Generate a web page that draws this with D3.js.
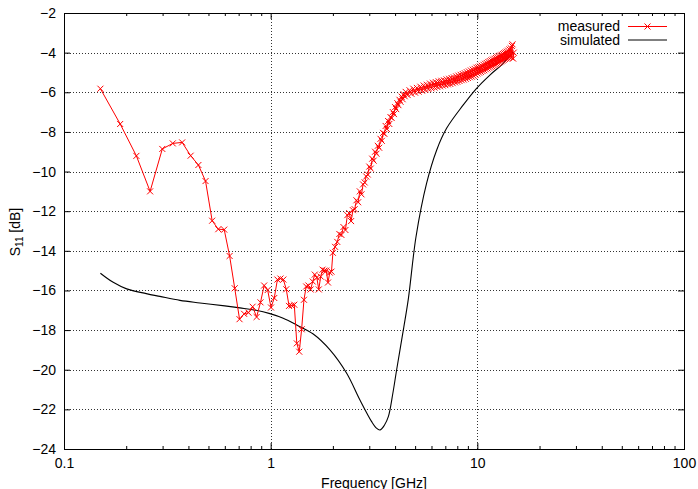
<!DOCTYPE html>
<html>
<head>
<meta charset="utf-8">
<title>S11 measured vs simulated</title>
<script src="https://d3js.org/d3.v7.min.js"></script>
<style>
body { margin: 0; background: #fff; }
svg text { font-family: "Liberation Sans", Arial, sans-serif; font-size: 14px; }
.grid line { stroke: #333; stroke-width: 1; stroke-dasharray: 1,2; shape-rendering: crispEdges; }
</style>
</head>
<body>
<script>

// tick values and labels
var xTicks = [0.1, 1, 10, 100];
var xTickLabels = ["0.1", "1", "10", "100"];
var xMinorTicks = [0.2, 0.3, 0.4, 0.5, 0.6, 0.7, 0.8, 0.9, 2, 3, 4, 5, 6, 7, 8, 9, 20, 30, 40, 50, 60, 70, 80, 90];
var yTicks = [-24, -22, -20, -18, -16, -14, -12, -10, -8, -6, -4, -2];

// measured S11 [GHz, dB]
var measured = [
  [0.150, -5.82], [0.187, -7.60], [0.224, -9.21], [0.261, -11.00], [0.299, -8.86],
  [0.336, -8.58], [0.373, -8.53], [0.410, -9.20], [0.447, -9.67], [0.484, -10.48],
  [0.521, -12.48], [0.558, -12.91], [0.596, -12.93], [0.633, -14.26], [0.670, -15.89],
  [0.707, -17.45], [0.744, -17.18], [0.781, -17.12], [0.818, -16.82], [0.855, -17.34],
  [0.893, -16.60], [0.930, -15.75], [0.967, -15.98], [1.004, -16.86], [1.041, -16.38],
  [1.078, -15.45], [1.115, -15.40], [1.152, -15.45], [1.190, -15.94], [1.227, -16.78],
  [1.264, -16.76], [1.301, -16.72], [1.338, -18.67], [1.375, -19.09], [1.412, -17.96],
  [1.449, -16.47], [1.486, -15.80], [1.523, -15.75], [1.561, -15.95], [1.598, -15.55],
  [1.635, -15.20], [1.672, -15.35], [1.709, -15.95], [1.746, -15.30], [1.783, -14.95],
  [1.820, -15.00], [1.857, -15.00], [1.894, -15.60], [1.932, -15.10], [1.969, -15.05],
  [2.00, -14.10], [2.05, -13.80], [2.10, -13.55], [2.15, -13.15], [2.20, -13.20],
  [2.25, -12.80], [2.30, -12.95], [2.35, -12.20], [2.40, -12.10], [2.45, -12.50],
  [2.50, -11.95], [2.55, -11.90], [2.60, -11.45], [2.65, -11.55], [2.70, -11.00],
  [2.75, -11.15], [2.80, -10.65], [2.85, -10.55], [2.90, -10.25], [2.95, -10.15],
  [3.00, -9.75], [3.05, -9.85], [3.10, -9.35], [3.15, -9.45], [3.20, -9.00],
  [3.25, -9.10], [3.30, -8.70], [3.35, -8.80], [3.40, -8.35], [3.45, -8.45],
  [3.50, -8.05], [3.55, -8.10], [3.60, -7.70], [3.65, -7.85], [3.70, -7.45],
  [3.75, -7.60], [3.80, -7.25], [3.85, -7.30], [3.90, -7.00], [3.95, -7.10],
  [4.00, -6.75], [4.05, -6.85], [4.10, -6.55], [4.15, -6.65], [4.20, -6.38],
  [4.25, -6.48], [4.30, -6.22], [4.35, -6.35], [4.40, -6.10], [4.45, -6.20],
  [4.5, -5.98], [4.6, -6.14], [4.7, -5.90], [4.8, -6.08], [4.9, -5.82],
  [5.0, -6.02], [5.1, -5.78], [5.2, -5.97], [5.3, -5.72], [5.4, -5.92],
  [5.5, -5.66], [5.6, -5.88], [5.7, -5.62], [5.8, -5.84], [5.9, -5.56],
  [6.0, -5.80], [6.1, -5.52], [6.2, -5.76], [6.3, -5.49], [6.4, -5.73],
  [6.5, -5.45], [6.6, -5.70], [6.7, -5.42], [6.8, -5.66], [6.9, -5.40],
  [7.0, -5.64], [7.1, -5.35], [7.2, -5.60], [7.3, -5.32], [7.4, -5.58],
  [7.5, -5.28], [7.6, -5.54], [7.7, -5.25], [7.8, -5.50], [7.9, -5.20],
  [8.0, -5.47], [8.1, -5.16], [8.2, -5.43], [8.3, -5.12], [8.4, -5.39],
  [8.5, -5.08], [8.6, -5.36], [8.7, -5.04], [8.8, -5.32], [8.9, -4.99],
  [9.0, -5.28], [9.1, -4.95], [9.2, -5.24], [9.3, -4.90], [9.4, -5.21],
  [9.5, -4.86], [9.6, -5.17], [9.7, -4.82], [9.8, -5.12], [9.9, -4.76],
  [10.0, -5.05], [10.1, -4.74], [10.2, -5.01], [10.3, -4.70], [10.4, -4.97],
  [10.5, -4.66], [10.6, -4.93], [10.7, -4.61], [10.8, -4.89], [10.9, -4.56],
  [11.0, -4.84], [11.1, -4.52], [11.2, -4.80], [11.3, -4.47], [11.4, -4.76],
  [11.5, -4.43], [11.6, -4.72], [11.7, -4.39], [11.8, -4.68], [11.9, -4.35],
  [12.0, -4.64], [12.1, -4.31], [12.2, -4.60], [12.3, -4.27], [12.4, -4.56],
  [12.5, -4.23], [12.6, -4.52], [12.7, -4.19], [12.8, -4.48], [12.9, -4.15],
  [13.0, -4.44], [13.1, -4.11], [13.2, -4.40], [13.3, -4.07], [13.4, -4.36],
  [13.5, -4.03], [13.6, -4.32], [13.7, -3.99], [13.8, -4.29], [13.9, -3.95],
  [14.0, -4.26], [14.1, -3.90], [14.2, -4.22], [14.3, -3.84], [14.4, -4.20],
  [14.5, -3.78], [14.6, -4.24], [14.7, -3.66], [14.8, -3.58], [14.9, -4.30],
  [15.0, -4.00]
];

// simulated S11 [GHz, dB]
var simulated = [
  [0.15, -15.13], [0.173, -15.59], [0.201, -15.92], [0.25, -16.16], [0.291, -16.30],
  [0.364, -16.50], [0.455, -16.63], [0.6, -16.78], [0.71, -16.88], [0.85, -17.00],
  [0.992, -17.17], [1.15, -17.40], [1.336, -17.74], [1.607, -18.20], [1.936, -19.00],
  [2.332, -20.18], [2.704, -21.53], [3.08, -22.62], [3.25, -22.95], [3.38, -23.04],
  [3.55, -22.80], [3.71, -22.37], [3.9, -21.20], [4.07, -20.00], [4.4, -17.90],
  [4.64, -16.40], [5.05, -13.29], [5.68, -10.60], [6.36, -8.91], [7.1, -7.82],
  [8.55, -6.64], [9.92, -5.80], [11.5, -5.13], [13.35, -4.54], [14.92, -3.95]
];

var width = 698,
    height = 489;

// plot frame
var plotLeft = 64, plotRight = 684, plotTop = 13, plotBottom = 449;

var svg = d3.select("body")
    .append("svg")
    .attr("width", width)
    .attr("height", height);

svg.append("rect")
    .attr("width", width)
    .attr("height", height)
    .attr("fill", "#fff");

var x = d3.scaleLog().domain([0.1, 100]).range([plotLeft, plotRight]);
var y = d3.scaleLinear().domain([-24, -2]).range([plotBottom, plotTop]);

// grid (dotted) at the inner major ticks
var grid = svg.append("g").attr("class", "grid");
grid.selectAll(".gy")
    .data(yTicks.slice(1, -1))
    .enter().append("line")
    .attr("x1", plotLeft).attr("x2", plotRight)
    .attr("y1", function(d) { return Math.round(y(d)) + 0.5; })
    .attr("y2", function(d) { return Math.round(y(d)) + 0.5; });
grid.selectAll(".gx")
    .data(xTicks.slice(1, -1))
    .enter().append("line")
    .attr("y1", plotTop).attr("y2", plotBottom)
    .attr("x1", function(d) { return Math.round(x(d)) + 0.5; })
    .attr("x2", function(d) { return Math.round(x(d)) + 0.5; });

// axes, ticks pointing inwards on all four sides
function styleAxis(g) {
    g.select(".domain").remove();
    g.attr("font-family", null).attr("font-size", null);
    g.selectAll("text").attr("fill", "#000");
}

svg.append("g")
    .attr("transform", "translate(0," + plotBottom + ")")
    .call(d3.axisBottom(x).tickValues(xTicks)
        .tickFormat(function(d, i) { return xTickLabels[i]; })
        .tickSize(-6).tickPadding(9))
    .call(styleAxis);

svg.append("g")
    .attr("transform", "translate(0," + plotBottom + ")")
    .call(d3.axisBottom(x).tickValues(xMinorTicks).tickFormat("").tickSize(-3))
    .call(styleAxis);

svg.append("g")
    .attr("transform", "translate(0," + plotTop + ")")
    .call(d3.axisTop(x).tickValues(xTicks).tickFormat("").tickSize(-6))
    .call(styleAxis);

svg.append("g")
    .attr("transform", "translate(0," + plotTop + ")")
    .call(d3.axisTop(x).tickValues(xMinorTicks).tickFormat("").tickSize(-3))
    .call(styleAxis);

svg.append("g")
    .attr("transform", "translate(" + plotLeft + ",0)")
    .call(d3.axisLeft(y).tickValues(yTicks).tickSize(-6).tickPadding(8))
    .call(styleAxis);

svg.append("g")
    .attr("transform", "translate(" + plotRight + ",0)")
    .call(d3.axisRight(y).tickValues(yTicks).tickFormat("").tickSize(-6))
    .call(styleAxis);

// border
svg.append("rect")
    .attr("x", plotLeft + 0.5).attr("y", plotTop + 0.5)
    .attr("width", plotRight - plotLeft).attr("height", plotBottom - plotTop)
    .attr("fill", "none")
    .attr("stroke", "#000")
    .attr("stroke-width", 1);

// data
var line = d3.line()
    .x(function(d) { return x(d[0]); })
    .y(function(d) { return y(d[1]); });

svg.append("path")
    .datum(simulated)
    .attr("fill", "none")
    .attr("stroke", "#000")
    .attr("stroke-width", 1.1)
    .attr("d", line.curve(d3.curveCatmullRom.alpha(0.5)));

svg.append("path")
    .datum(measured)
    .attr("fill", "none")
    .attr("stroke", "#f00")
    .attr("stroke-width", 1)
    .attr("d", line.curve(d3.curveLinear));

var cross = "M-3,-3L3,3M-3,3L3,-3";

svg.append("g").selectAll("path")
    .data(measured)
    .enter().append("path")
    .attr("transform", function(d) { return "translate(" + x(d[0]) + "," + y(d[1]) + ")"; })
    .attr("d", cross)
    .attr("fill", "none")
    .attr("stroke", "#f00")
    .attr("stroke-width", 1);

// legend
var legend = svg.append("g");
legend.append("text")
    .attr("x", 620).attr("y", 31)
    .attr("text-anchor", "end")
    .text("measured");
legend.append("line")
    .attr("x1", 628).attr("x2", 667)
    .attr("y1", 26.5).attr("y2", 26.5)
    .attr("stroke", "#f00");
legend.append("path")
    .attr("transform", "translate(647.5,26.5)")
    .attr("d", cross)
    .attr("fill", "none")
    .attr("stroke", "#f00");
legend.append("text")
    .attr("x", 620).attr("y", 45)
    .attr("text-anchor", "end")
    .text("simulated");
legend.append("line")
    .attr("x1", 628).attr("x2", 667)
    .attr("y1", 40).attr("y2", 40)
    .attr("stroke", "#000");

// axis labels
svg.append("text")
    .attr("x", (plotLeft + plotRight) / 2)
    .attr("y", 488)
    .attr("text-anchor", "middle")
    .text("Frequency [GHz]");

var ylab = svg.append("text")
    .attr("transform", "translate(20,232) rotate(-90)")
    .attr("text-anchor", "middle");
ylab.append("tspan").text("S");
ylab.append("tspan").attr("font-size", "10px").attr("dy", 3).text("11");
ylab.append("tspan").attr("dy", -3).text(" [dB]");

</script>
</body>
</html>
